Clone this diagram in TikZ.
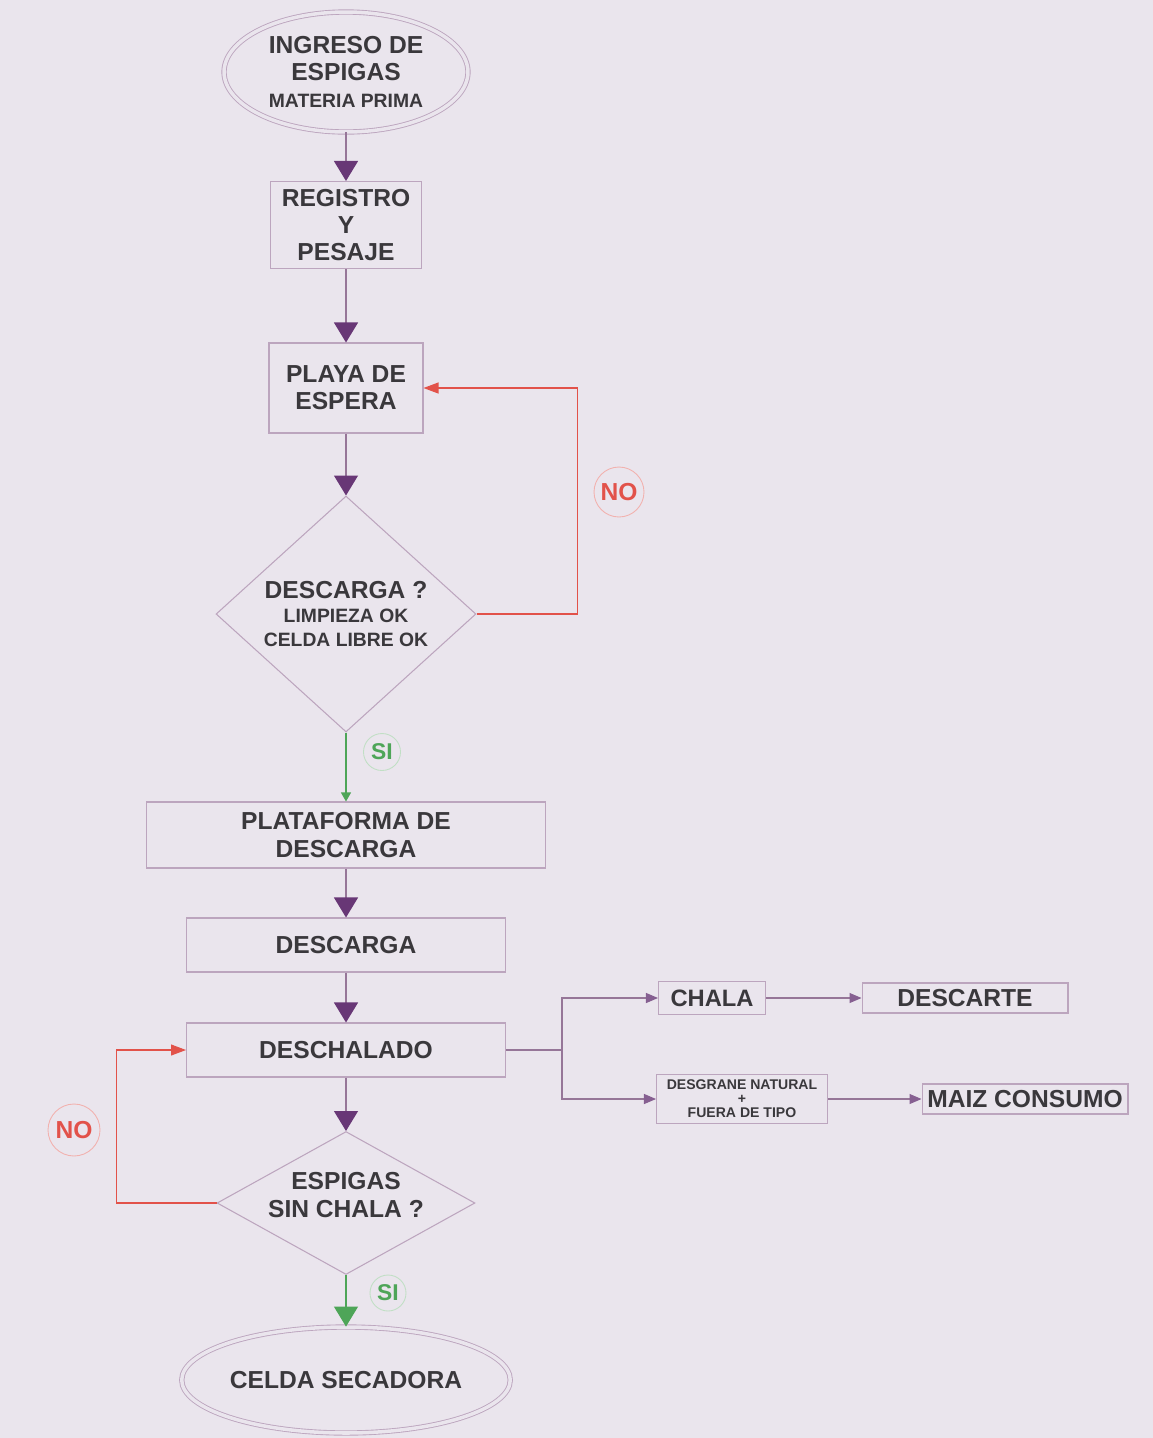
\documentclass[tikz,border=0pt]{standalone}
\usepackage{fontspec}
\setmainfont{Liberation Sans}
\usetikzlibrary{arrows.meta,shapes.geometric}
\definecolor{paper}{RGB}{234,229,237}
\definecolor{frame}{RGB}{188,165,190}
\definecolor{wire}{RGB}{150,118,152}
\definecolor{tip}{RGB}{104,55,118}
\definecolor{nored}{RGB}{226,82,74}
\definecolor{sigreen}{RGB}{78,165,88}
\definecolor{ink}{RGB}{58,56,60}

\begin{document}
\begin{tikzpicture}[x=0.02cm, y=-0.02cm,
  every node/.style={font=\bfseries\fontsize{14}{15.5}\selectfont, text=ink, align=center, inner sep=0pt},
  box/.style={rectangle, draw=frame, line width=0.6pt},
  ends/.style={ellipse, draw=frame, line width=0.5pt, double=paper, double distance=2pt},
  ask/.style={diamond, draw=frame, line width=0.6pt},
  flow/.style={draw=wire, line width=0.7pt, -{Triangle[width=0.48cm,length=0.4cm,color=tip]}},
  branch/.style={draw=wire, line width=0.6pt, -{Triangle[width=0.2cm,length=0.24cm,color=tip!80]}},
  noloop/.style={draw=nored, line width=0.6pt, -{Triangle[width=0.22cm,length=0.3cm,color=nored]}},
  siflow/.style={draw=sigreen, line width=0.6pt, -{Triangle[width=0.2cm,length=0.18cm,color=sigreen]}},
  nomark/.style={circle, draw=nored!45, line width=0.5pt, text=nored, minimum size=1cm},
  simark/.style={circle, draw=sigreen!35, line width=0.5pt, text=sigreen, minimum size=0.74cm, font=\bfseries\fontsize{13}{14}\selectfont}]
\fill[paper] (0,0) rectangle (1153,1438);
\useasboundingbox (0,0) rectangle (1153,1438);

\node[ends, minimum width=4.88cm, minimum height=2.4cm] (ingreso) at (346,72)
  {INGRESO DE\\ESPIGAS\\{\fontsize{11}{13}\selectfont MATERIA PRIMA}};
\node[box, minimum width=3.02cm, minimum height=1.74cm] (registro) at (346,225) {REGISTRO\\Y\\PESAJE};
\node[box, minimum width=3.08cm, minimum height=1.8cm] (playa) at (346,388) {PLAYA DE\\ESPERA};
\node[ask, minimum width=5.2cm, minimum height=4.72cm, font=\bfseries\fontsize{14}{13.6}\selectfont] (descq) at (346,614)
  {DESCARGA ?\\{\fontsize{11}{13}\selectfont LIMPIEZA OK}\\{\fontsize{11}{13}\selectfont CELDA LIBRE OK}};
\node[box, minimum width=8cm, minimum height=1.32cm] (plataforma) at (346,835) {PLATAFORMA DE\\DESCARGA};
\node[box, minimum width=6.38cm, minimum height=1.08cm] (descarga) at (346,945) {DESCARGA};
\node[box, minimum width=6.38cm, minimum height=1.08cm] (deschalado) at (346,1050) {DESCHALADO};
\node[ask, minimum width=5.16cm, minimum height=2.86cm,
  label={[yshift=4.5pt]center:ESPIGAS\\SIN CHALA ?}] (espq) at (346,1203) {};
\node[ends, minimum width=5.64cm, minimum height=2.12cm] (celda) at (346,1380) {CELDA SECADORA};

\node[box, minimum width=2.14cm, minimum height=0.66cm, font=\bfseries\fontsize{13.5}{15}\selectfont] (chala) at (712,998) {CHALA};
\node[box, minimum width=4.12cm, minimum height=0.6cm] (descarte) at (965,998) {DESCARTE};
\node[box, minimum width=3.42cm, minimum height=0.98cm, font=\bfseries\fontsize{8}{7.9}\selectfont] (desgrane) at (742,1099)
  {DESGRANE NATURAL\\+\\FUERA DE TIPO};
\node[box, minimum width=4.12cm, minimum height=0.6cm] (maiz) at (1025,1099) {MAIZ CONSUMO};

\node[nomark] (noA) at (619,492) {NO};
\node[nomark, minimum size=1.04cm] (noB) at (74,1130) {NO};
\node[simark] (siA) at (382,752) {SI};
\node[simark, minimum size=0.72cm] (siB) at (388,1293) {SI};

\foreach \a/\b in {ingreso/registro,registro/playa,playa/descq,plataforma/descarga,descarga/deschalado,deschalado/espq}
  \draw[flow] (\a.south) -- (\b.north);
\draw[siflow] (descq.south) -- (plataforma.north);
\draw[flow, draw=sigreen, -{Triangle[width=0.48cm,length=0.4cm,color=sigreen]}] (espq.south) -- (celda.north);
\draw[noloop] (descq.east) -- ++(101,0) |- (playa.east);
\draw[noloop] (espq.west) -- ++(-100,0) |- (deschalado.west);

% salidas del deschalado
\draw[draw=wire, line width=0.6pt] (deschalado.east) -- ++(56,0) coordinate (split);
\draw[branch] (split) |- (chala.west);
\draw[branch] (split) |- (desgrane.west);
\draw[branch] (chala) -- (descarte);
\draw[branch] (desgrane) -- (maiz);
\end{tikzpicture}
\end{document}
